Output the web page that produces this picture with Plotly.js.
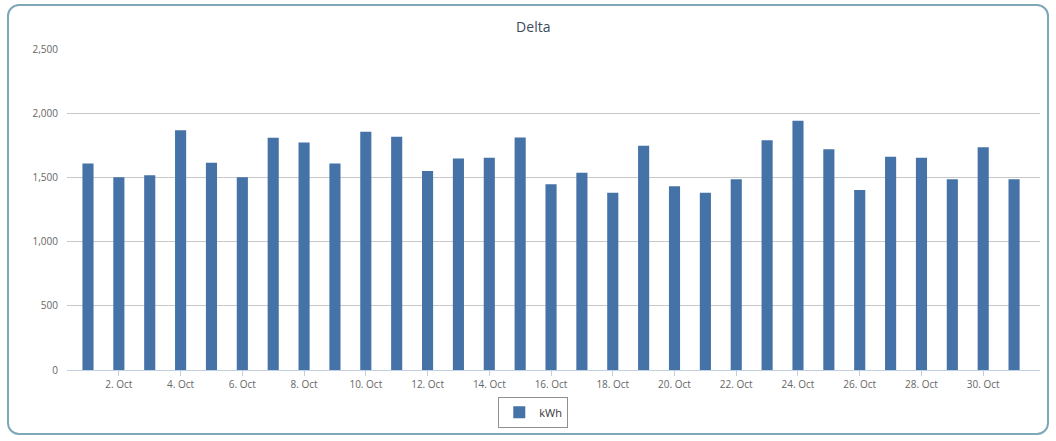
<!DOCTYPE html>
<html>
<head>
<meta charset="utf-8">
<script src="https://cdn.plot.ly/plotly-3.0.1.min.js"></script>
<style>
  html, body { margin: 0; padding: 0; background: #ffffff; }
  #frame {
    position: absolute; left: 7px; top: 4px; width: 1042px; height: 431px;
    border: 2px solid #7ea7b8; border-radius: 12px; box-sizing: border-box;
  }
  #chart { position: absolute; left: 0; top: 0; width: 1056px; height: 441px; }
</style>
</head>
<body>
<div id="frame"></div>
<div id="chart"></div>
<script>
const days = [1,2,3,4,5,6,7,8,9,10,11,12,13,14,15,16,17,18,19,20,21,22,23,24,25,26,27,28,29,30,31];
const kWh = [1611,1502,1518,1870,1616,1502,1810,1774,1611,1857,1818,1551,1650,1655,1813,
             1448,1538,1383,1748,1432,1383,1487,1792,1943,1722,1404,1663,1655,1487,1736,1487];
const tickDays = [2,4,6,8,10,12,14,16,18,20,22,24,26,28,30];
const tickLabels = tickDays.map(d => d + '. Oct');
const seriesName = 'kWh';
const chartTitle = 'Delta';

const trace = {
  type: 'bar', x: days, y: kWh, name: seriesName, width: 0.36,
  marker: { color: '#4572a7', line: { width: 0 } },
  showlegend: true
};
const layout = {
  width: 1056, height: 441,
  paper_bgcolor: 'rgba(0,0,0,0)', plot_bgcolor: 'rgba(0,0,0,0)',
  margin: { l: 67, r: 16, t: 49, b: 70.5 },
  font: { family: 'Open Sans, sans-serif', color: '#666666', size: 10 },
  title: { text: chartTitle, x: 0.505, xref: 'container', xanchor: 'center',
           y: 0.938, yref: 'container', yanchor: 'middle',
           font: { size: 14, color: '#3e4a5c', family: 'Open Sans, sans-serif' } },
  xaxis: {
    range: [0.32, 31.84], tickmode: 'array', tickvals: tickDays, ticktext: tickLabels,
    showgrid: false, zeroline: false, showline: true, linecolor: '#c0d0e0', linewidth: 1,
    ticks: 'outside', ticklen: 5, tickcolor: '#c0d0e0', tickfont: { size: 10, color: '#666666' }
  },
  yaxis: {
    range: [0, 2503], tickmode: 'array', tickvals: [0,500,1000,1500,2000,2500],
    tickformat: ',d', showgrid: true, gridcolor: '#c8c8c8', gridwidth: 1,
    zeroline: false, showline: false, ticks: '', ticklabelstandoff: 8,
    tickfont: { size: 10, color: '#666666' }
  },
  legend: {
    orientation: 'h', xref: 'container', yref: 'container', x: 0.505, xanchor: 'center',
    y: 0.065, yanchor: 'middle', bordercolor: '#909090', borderwidth: 1,
    bgcolor: 'rgba(255,255,255,0)', font: { size: 11, color: '#333333' }
  },
  bargap: 0.5
};
Plotly.newPlot('chart', [trace], layout, { displayModeBar: false, staticPlot: true });
</script>
</body>
</html>
